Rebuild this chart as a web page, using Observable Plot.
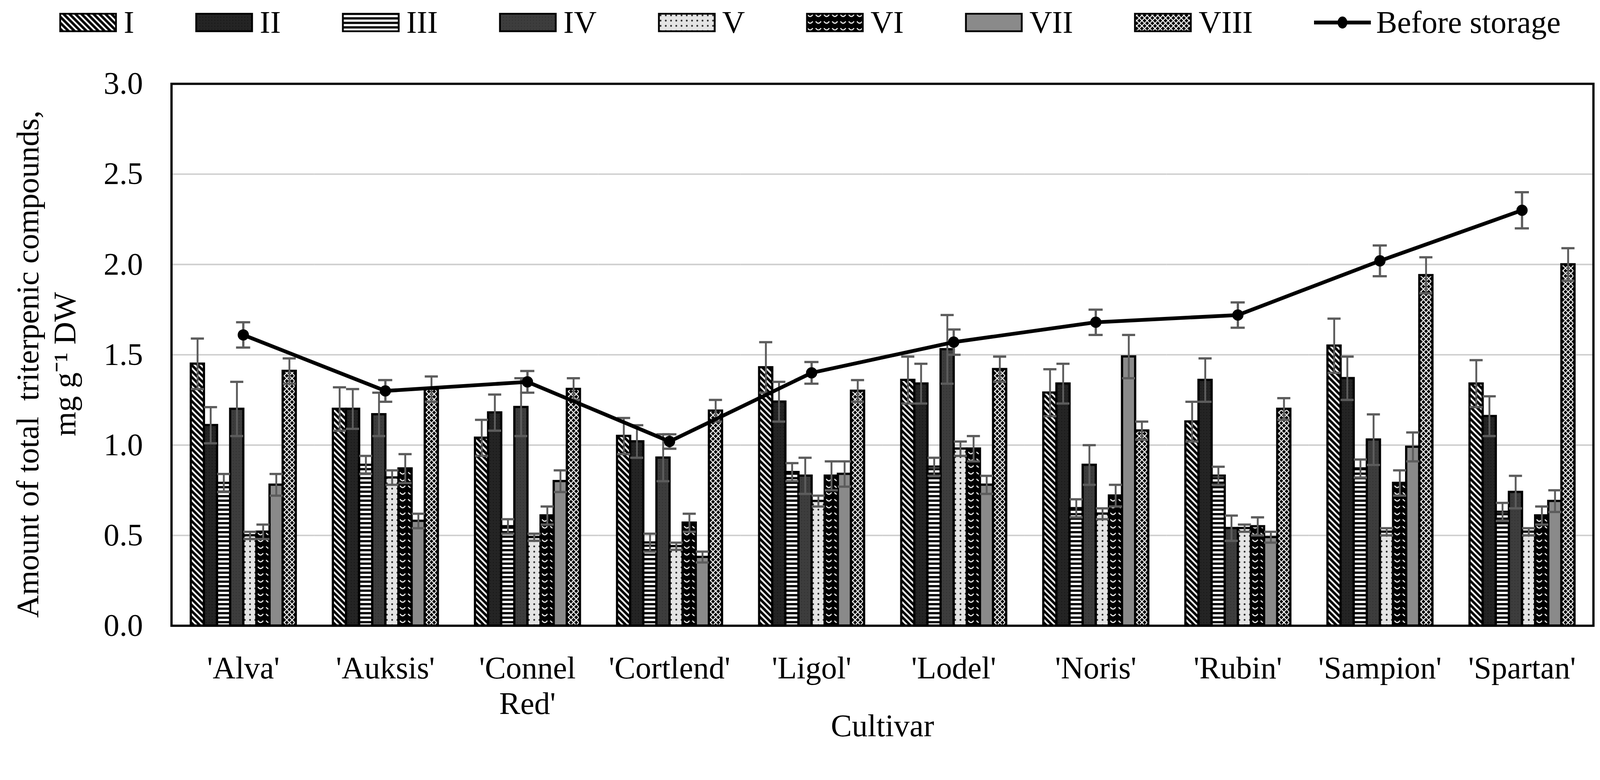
<!DOCTYPE html>
<html>
<head>
<meta charset="utf-8">
<script src="https://cdn.jsdelivr.net/npm/d3@7"></script>
<script src="https://cdn.jsdelivr.net/npm/@observablehq/plot@0.6"></script>
<style>
  html, body { margin: 0; padding: 0; background: #fff; overflow: hidden; font-family: "Liberation Serif", "Times New Roman", serif; }
  #page { width: 4268px; height: 1996px; transform-origin: 0 0; }
  #legend { height: 120px; display: flex; align-items: center; padding-left: 158px; box-sizing: border-box; white-space: nowrap; }
  .item { display: flex; align-items: center; margin-right: 163px; font-size: 84px; line-height: 1; flex-shrink: 0; white-space: nowrap; }
  .item svg { margin-right: 18px; display: block; flex-shrink: 0; }
  #chart { position: relative; width: 4268px; height: 1876px; }
  #chart svg { position: absolute; left: 0; top: 0; max-width: none !important; }
</style>
</head>
<body>
<svg width="0" height="0" style="position:absolute">
  <defs>
    <pattern id="patI" patternUnits="userSpaceOnUse" width="16" height="16">
      <rect width="16" height="16" fill="#000"/>
      <path d="M-4,-4 L20,20 M-4,12 L4,20 M12,-4 L20,4" stroke="#fff" stroke-width="4.5"/>
    </pattern>
    <pattern id="patII" patternUnits="userSpaceOnUse" width="8" height="8">
      <rect width="8" height="8" fill="#242424"/>
      <circle cx="4" cy="4" r="1.2" fill="#111"/>
    </pattern>
    <pattern id="patIII" patternUnits="userSpaceOnUse" width="12" height="12">
      <rect width="12" height="12" fill="#fff"/>
      <rect width="12" height="6" fill="#000"/>
    </pattern>
    <pattern id="patIV" patternUnits="userSpaceOnUse" width="8" height="8">
      <rect width="8" height="8" fill="#3d3d3d"/>
      <circle cx="4" cy="4" r="1.2" fill="#2c2c2c"/>
    </pattern>
    <pattern id="patV" patternUnits="userSpaceOnUse" width="14" height="14">
      <rect width="14" height="14" fill="#e4e4e4"/>
      <circle cx="7" cy="7" r="2.4" fill="#222"/>
    </pattern>
    <pattern id="patVI" patternUnits="userSpaceOnUse" width="22" height="18">
      <rect width="22" height="18" fill="#000"/>
      <path d="M4,5 Q11,15 18,5" stroke="#fff" stroke-width="3" fill="none"/>
    </pattern>
    <pattern id="patVII" patternUnits="userSpaceOnUse" width="8" height="8">
      <rect width="8" height="8" fill="#8a8a8a"/>
    </pattern>
    <pattern id="patVIII" patternUnits="userSpaceOnUse" width="14" height="14">
      <rect width="14" height="14" fill="#000"/>
      <path d="M0,0 L14,14 M14,0 L0,14" stroke="#fff" stroke-width="2.5"/>
    </pattern>
  </defs>
</svg>
<div id="page">
  <div id="legend"></div>
  <div id="chart"></div>
</div>
<script>
// ---- data ----
const cultivars = ["'Alva'", "'Auksis'", "'Connel Red'", "'Cortlend'", "'Ligol'", "'Lodel'", "'Noris'", "'Rubin'", "'Sampion'", "'Spartan'"];
const series = ["I", "II", "III", "IV", "V", "VI", "VII", "VIII"];

const valuesI    = [1.45, 1.20, 1.04, 1.05, 1.43, 1.36, 1.29, 1.13, 1.55, 1.34];
const errorsI    = [0.14, 0.12, 0.10, 0.10, 0.14, 0.13, 0.13, 0.11, 0.15, 0.13];
const valuesII   = [1.11, 1.20, 1.18, 1.02, 1.24, 1.34, 1.34, 1.36, 1.37, 1.16];
const errorsII   = [0.10, 0.11, 0.10, 0.09, 0.11, 0.11, 0.11, 0.12, 0.12, 0.11];
const valuesIII  = [0.79, 0.89, 0.55, 0.46, 0.85, 0.88, 0.65, 0.83, 0.87, 0.63];
const errorsIII  = [0.05, 0.05, 0.04, 0.05, 0.05, 0.05, 0.05, 0.05, 0.05, 0.05];
const valuesIV   = [1.20, 1.17, 1.21, 0.93, 0.83, 1.53, 0.89, 0.54, 1.03, 0.74];
const errorsIV   = [0.15, 0.12, 0.16, 0.13, 0.10, 0.19, 0.11, 0.07, 0.14, 0.09];
const valuesV    = [0.50, 0.82, 0.49, 0.44, 0.69, 0.98, 0.62, 0.54, 0.52, 0.52];
const errorsV    = [0.02, 0.04, 0.02, 0.02, 0.03, 0.04, 0.03, 0.02, 0.02, 0.02];
const valuesVI   = [0.52, 0.87, 0.61, 0.57, 0.83, 0.98, 0.72, 0.55, 0.79, 0.61];
const errorsVI   = [0.04, 0.08, 0.05, 0.05, 0.08, 0.07, 0.06, 0.05, 0.07, 0.05];
const valuesVII  = [0.78, 0.58, 0.80, 0.38, 0.84, 0.78, 1.49, 0.49, 0.99, 0.69];
const errorsVII  = [0.06, 0.04, 0.06, 0.03, 0.07, 0.05, 0.12, 0.03, 0.08, 0.06];
const valuesVIII = [1.41, 1.31, 1.31, 1.19, 1.30, 1.42, 1.08, 1.20, 1.94, 2.00];
const errorsVIII = [0.07, 0.07, 0.06, 0.06, 0.06, 0.07, 0.05, 0.06, 0.10, 0.09];
const beforeStorage       = [1.61, 1.30, 1.35, 1.02, 1.40, 1.57, 1.68, 1.72, 2.02, 2.30];
const beforeStorageErrors = [0.07, 0.06, 0.06, 0.04, 0.06, 0.07, 0.07, 0.07, 0.085, 0.10];

const yTicks = [0, 0.5, 1.0, 1.5, 2.0, 2.5, 3.0];
const yLabel = "Amount of total\u00A0 triterpenic compounds,\nmg g\u207B\u00B9 DW";
const xLabel = "Cultivar";
const lineLabel = "Before storage";

// ---- tables ----
const seriesValues = {I: valuesI, II: valuesII, III: valuesIII, IV: valuesIV, V: valuesV, VI: valuesVI, VII: valuesVII, VIII: valuesVIII};
const seriesErrors = {I: errorsI, II: errorsII, III: errorsIII, IV: errorsIV, V: errorsV, VI: errorsVI, VII: errorsVII, VIII: errorsVIII};
const rows = cultivars.flatMap((c, i) => series.map(s => ({cultivar: c, series: s, value: seriesValues[s][i], err: seriesErrors[s][i]})));
const lineRows = cultivars.map((c, i) => ({cultivar: c, value: beforeStorage[i], err: beforeStorageErrors[i]}));

// ---- layout ----
const W = 4268, H = 1876;
const M = {marginTop: 103, marginBottom: 328, marginLeft: 457, marginRight: 18};
const FONT = '"Liberation Serif", "Times New Roman", serif';
const errColor = "#5c5c5c";
const capInset = ((W - M.marginLeft - M.marginRight) / cultivars.length - 38) / 2;

// fit the 4268x1996 page into the actual viewport
function fit() {
  const s = Math.min(window.innerWidth / 4268, window.innerHeight / 1996);
  document.getElementById("page").style.transform = Math.abs(s - 1) > 0.001 ? `scale(${s})` : "";
}
fit();
window.addEventListener("resize", fit);

// ---- legend ----
const legend = document.getElementById("legend");
for (const s of series) {
  const item = document.createElement("div");
  item.className = "item";
  item.innerHTML = `<svg width="154" height="52"><rect x="2.5" y="2.5" width="149" height="47" fill="url(#pat${s})" stroke="#000" stroke-width="5"/></svg><span>${s}</span>`;
  legend.appendChild(item);
}
{
  const item = document.createElement("div");
  item.className = "item";
  item.innerHTML = `<svg width="152" height="52"><line x1="0" y1="26" x2="152" y2="26" stroke="#000" stroke-width="10"/><ellipse cx="76" cy="26" rx="13" ry="16" fill="#000"/></svg><span>${lineLabel}</span>`;
  item.querySelector("svg").style.marginRight = "14px";
  item.style.marginRight = "0";
  legend.appendChild(item);
}

// ---- bars (faceted by cultivar) ----
const bars = Plot.plot({
  width: W, height: H, ...M,
  style: {background: "transparent"},
  fx: {domain: cultivars, padding: 0, axis: null},
  x: {domain: series, paddingInner: 0, paddingOuter: 1.38, axis: null},
  y: {domain: [0, 3], axis: null},
  color: {domain: series, range: series.map(s => `url(#pat${s})`)},
  marks: [
    Plot.ruleY(yTicks.slice(1, -1), {stroke: "#cfcfcf", strokeWidth: 4}),
    Plot.barY(rows, {fx: "cultivar", x: "series", y: "value", fill: "series", stroke: "#000", strokeWidth: 6}),
    Plot.ruleX(rows, {fx: "cultivar", x: "series", y1: d => d.value - d.err, y2: d => d.value + d.err, stroke: errColor, strokeWidth: 5}),
    Plot.tickY(rows, {fx: "cultivar", x: "series", y: d => d.value + d.err, stroke: errColor, strokeWidth: 6}),
    Plot.tickY(rows, {fx: "cultivar", x: "series", y: d => d.value - d.err, stroke: errColor, strokeWidth: 6})
  ]
});

// ---- overlay: frame, axes, line ----
const overlay = Plot.plot({
  width: W, height: H, ...M,
  style: {background: "transparent", fontFamily: FONT, color: "#000", overflow: "visible"},
  x: {type: "band", domain: cultivars, padding: 0, axis: null},
  y: {domain: [0, 3], axis: null},
  marks: [
    Plot.frame({stroke: "#000", strokeWidth: 6}),
    Plot.text(yTicks, {y: d => d, text: d => d.toFixed(1), frameAnchor: "left", textAnchor: "end", dx: -76, fontSize: 84}),
    Plot.text([yLabel], {text: d => d, frameAnchor: "left", textAnchor: "middle", rotate: -90, lineAnchor: "top", dx: -426, dy: 25, lineHeight: 1.18, fontSize: 84}),
    Plot.text(cultivars, {x: d => d, text: d => d.replace("Connel ", "Connel\n"), frameAnchor: "bottom", lineAnchor: "top", dy: 72, lineHeight: 1.14, fontSize: 84}),
    Plot.text([xLabel], {text: d => d, frameAnchor: "bottom", lineAnchor: "top", dy: 235, fontSize: 84}),
    Plot.ruleX(lineRows, {x: "cultivar", y1: d => d.value - d.err, y2: d => d.value + d.err, stroke: errColor, strokeWidth: 6}),
    Plot.tickY(lineRows, {x: "cultivar", y: d => d.value + d.err, stroke: errColor, strokeWidth: 6, insetLeft: capInset, insetRight: capInset}),
    Plot.tickY(lineRows, {x: "cultivar", y: d => d.value - d.err, stroke: errColor, strokeWidth: 6, insetLeft: capInset, insetRight: capInset}),
    Plot.line(lineRows, {x: "cultivar", y: "value", stroke: "#000", strokeWidth: 10}),
    Plot.dot(lineRows, {x: "cultivar", y: "value", r: 15, fill: "#000"})
  ]
});

const chart = document.getElementById("chart");
chart.appendChild(bars);
chart.appendChild(overlay);
</script>
</body>
</html>
